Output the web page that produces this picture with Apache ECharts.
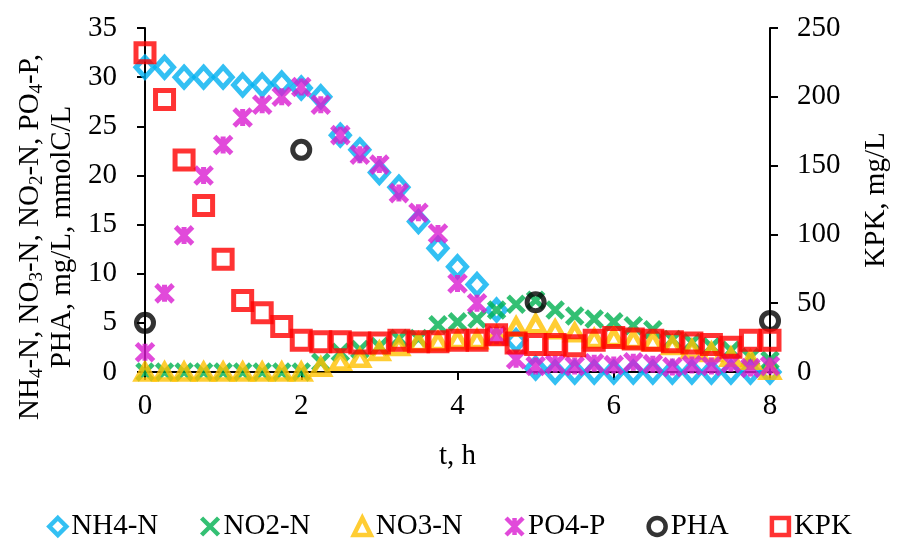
<!DOCTYPE html>
<html><head><meta charset="utf-8">
<script src="https://cdn.jsdelivr.net/npm/echarts@6/dist/echarts.min.js"></script>
<style>html,body{margin:0;padding:0;background:#fff}#c{width:899px;height:544px}</style>
</head><body><div id="c"></div>
<script>
const times = [0,0.25,0.5,0.75,1,1.25,1.5,1.75,2,2.25,2.5,2.75,3,3.25,3.5,3.75,4,4.25,4.5,4.75,5,5.25,5.5,5.75,6,6.25,6.5,6.75,7,7.25,7.5,7.75,8];
const nh4 = [31,31,30,30,30,29.2,29.2,29.4,28.9,28,24.1,22.6,20.3,18.8,15.3,12.6,10.7,8.9,6.3,3.2,0.4,0,0,0,0,0,0,0,0,0,0,0,0];
const no2 = [0,0,0,0,0,0,0,0,0,1.0,2.0,2.3,2.6,3.4,3.4,4.8,5.1,5.4,6.3,6.9,7.3,6.3,5.7,5.4,5.1,4.7,4.3,3.3,3.0,2.6,2.2,1.5,1.2];
const no3 = [0,0,0,0,0,0,0,0,0,0.5,1.1,1.4,2.1,2.6,3.0,3.1,3.3,3.3,3.7,4.6,4.9,4.3,4.0,3.4,3.5,3.3,3.1,2.7,2.3,2.0,1.5,1.2,0.2];
const po4 = [2.0,8.0,13.9,20.0,23.1,25.9,27.2,28.0,29.0,27.2,24.1,22.1,21.1,18.2,16.2,14.1,9.0,7.0,3.7,1.3,0.6,0.8,0.6,0.9,0.7,1.0,0.8,0.5,0.7,0.6,0.9,0.4,0.6];
const phaTimes = [0,2,5,8];
const pha = [5.0,22.6,7.1,5.2];
const kpk = [232,198,154,121,82,52,43,33,23,22,22,21,21,23,22,22,23,23,27,21,20,20,19,23,25,24,23,22,21,20,18,23,23];
const seriesNames = ['NH4-N','NO2-N','NO3-N','PO4-P','PHA','KPK'];
const xTicks = [0,2,4,6,8];

const FONT = 'Liberation Serif';
const pair = (xs, ys) => xs.map((x, i) => [x, ys[i]]);
const hollow = (c, w) => ({ color: 'rgba(0,0,0,0)', borderColor: c, borderWidth: w });

const chart = echarts.init(document.getElementById('c'), null, { renderer: 'canvas' });
const axisCommon = {
  axisLine: { show: true, lineStyle: { color: '#000', width: 2 } },
  axisTick: { show: true, inside: false, length: 8, lineStyle: { color: '#000', width: 2 } },
  splitLine: { show: false },
  axisLabel: { color: '#000', fontFamily: FONT, fontSize: 29 }
};
chart.setOption({
  animation: false,
  backgroundColor: '#fff',
  grid: { left: 145, right: 120, top: 28, bottom: 172, containLabel: false },
  legend: {
    top: 507, left: 'center', itemWidth: 17, itemHeight: 17, itemGap: 41, itemStyle: { borderWidth: 4.5 },
    textStyle: { color: '#000', fontFamily: FONT, fontSize: 29 },
    data: seriesNames
  },
  xAxis: Object.assign({}, axisCommon, {
    type: 'value', min: 0, max: 8, interval: 2,
    name: 't, h', nameLocation: 'middle', nameGap: 70,
    nameTextStyle: { color: '#000', fontFamily: FONT, fontSize: 29 },
    axisLabel: Object.assign({}, axisCommon.axisLabel, { margin: 20, formatter: v => xTicks.includes(v) ? String(v) : '' })
  }),
  yAxis: [
    Object.assign({}, axisCommon, {
      type: 'value', min: 0, max: 35, interval: 5, position: 'left',
      axisLabel: Object.assign({}, axisCommon.axisLabel, { margin: 28 })
    }),
    Object.assign({}, axisCommon, {
      type: 'value', min: 0, max: 250, interval: 50, position: 'right',
      name: 'KPK, mg/L', nameLocation: 'middle', nameRotate: 90, nameGap: 92,
      nameTextStyle: { color: '#000', fontFamily: FONT, fontSize: 29 },
      axisLabel: Object.assign({}, axisCommon.axisLabel, { margin: 27 })
    })
  ],
  graphic: [
    { type: 'text', x: 30, y: 237, rotation: Math.PI / 2, silent: true,
      style: {
        text: '{n|NH}{s|4}{n|-N, NO}{s|3}{n|-N, NO}{s|2}{n|-N, PO}{s|4}{n|-P,}',
        align: 'center', verticalAlign: 'middle', fill: '#000',
        rich: {
          n: { fontFamily: FONT, fontSize: 29, lineHeight: 34, fill: '#000' },
          s: { fontFamily: FONT, fontSize: 19, lineHeight: 16, verticalAlign: 'bottom', fill: '#000' }
        }
      } },
    { type: 'text', x: 62, y: 237, rotation: Math.PI / 2, silent: true,
      style: { text: 'PHA, mg/L, mmolC/L', align: 'center', verticalAlign: 'middle', fill: '#000', fontFamily: FONT, fontSize: 29 } }
  ],
  series: [
    { name: seriesNames[0], type: 'scatter', data: pair(times, nh4), symbol: 'diamond', symbolSize: [18, 20], itemStyle: hollow('#00B0F0', 5) },
    { name: seriesNames[1], type: 'scatter', data: pair(times, no2), symbol: 'path://M0 0L10 10M10 0L0 10', symbolSize: 16, itemStyle: hollow('#00B050', 5) },
    { name: seriesNames[2], type: 'scatter', data: pair(times, no3), symbol: 'triangle', symbolSize: [17, 15], itemStyle: hollow('#FFC000', 5) },
    { name: seriesNames[3], type: 'scatter', data: pair(times, po4), symbol: 'path://M0 0L10 10M10 0L0 10M5 0L5 10', symbolSize: 17, itemStyle: hollow('#D91DD1', 5) },
    { name: seriesNames[4], type: 'scatter', data: pair(phaTimes, pha), symbol: 'circle', symbolSize: 17, itemStyle: hollow('#000000', 5) },
    { name: seriesNames[5], type: 'scatter', yAxisIndex: 1, data: pair(times, kpk), symbol: 'rect', symbolSize: 18, itemStyle: hollow('#FF0000', 5) }
  ]
});
</script>
</body></html>
